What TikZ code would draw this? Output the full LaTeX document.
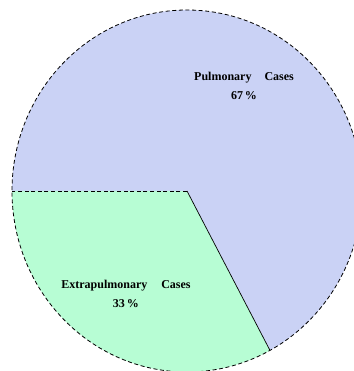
\documentclass[tikz,border=0pt]{standalone}
\usepackage{fontspec}
\setmainfont{Liberation Serif}
\usepackage{xcolor}
\usetikzlibrary{positioning}
\definecolor{PulmoBlue}{HTML}{CAD2F5}
\definecolor{ExtraGreen}{HTML}{B7FDD4}

\begin{document}
\begin{tikzpicture}[
	x=1pt, y=1pt,
	slice/.style={draw=none},
	rim/.style={dash pattern=on 4pt off 2.6pt, line width=0.8pt},
	edge/.style={line width=0.7pt},
	label/.style={align=center, font=\fontsize{12}{19}\selectfont\bfseries, inner sep=0pt}
]
\useasboundingbox (-187,-180) rectangle (166,191);
\coordinate (centre) at (0,0);
\coordinate (west) at (180:175pt and 181pt);
\coordinate (cut) at (298.3:175pt and 181pt);

\fill[PulmoBlue] (centre) -- (cut) arc[start angle=-61.7, end angle=180, x radius=175pt, y radius=181pt] -- cycle;
\fill[ExtraGreen] (centre) -- (west) arc[start angle=180, end angle=298.3, x radius=175pt, y radius=181pt] -- cycle;

\draw[rim] (0,0) ellipse[x radius=175pt, y radius=181pt];
\draw[rim] (centre) -- (west);
\draw[edge] (centre) -- (cut);

\node[label] (pulmo) at (57,105) {Pulmonary\hspace{13pt}Cases\\67\,\%};
\node[label] (extra) at (-61,-103) {Extrapulmonary\hspace{14pt}Cases\\33\,\%};
\end{tikzpicture}
\end{document}
